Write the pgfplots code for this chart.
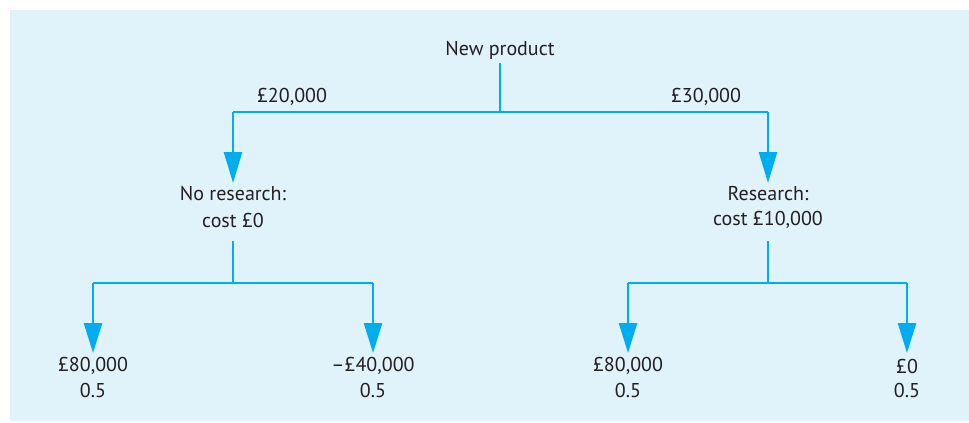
\documentclass[border=0pt]{standalone}
\usepackage{pgfplots}
\pgfplotsset{compat=1.18}
\usetikzlibrary{arrows.meta}
\usepackage{fontspec}
\setmainfont{PT Sans}
\definecolor{bgblue}{HTML}{E0F2FA}
\definecolor{lineblue}{HTML}{00AEEF}
\definecolor{txt}{HTML}{231F20}
\begin{document}
\begin{tikzpicture}
\begin{axis}[
  width=969bp, height=423bp, scale only axis,
  xmin=0, xmax=969, ymin=0, ymax=423, y dir=reverse,
  hide axis, clip=false,
  every axis plot/.append style={line width=2.6bp, color=lineblue},
]
\fill[white] (axis cs:0,0) rectangle (axis cs:969,423);
\fill[bgblue] (axis cs:10,10) rectangle (axis cs:969,421);
% tree lines
\addplot[] coordinates {(500,63) (500,112)};
\addplot[] coordinates {(233,112) (768,112)};
\addplot[-{Triangle[length=31bp,width=18bp]}] coordinates {(233,112) (233,183)};
\addplot[-{Triangle[length=31bp,width=18bp]}] coordinates {(768,112) (768,183)};
\addplot[] coordinates {(233,241) (233,283)};
\addplot[] coordinates {(93,283) (373,283)};
\addplot[-{Triangle[length=30bp,width=18bp]}] coordinates {(93,283) (93,353)};
\addplot[-{Triangle[length=30bp,width=18bp]}] coordinates {(373,283) (373,353)};
\addplot[] coordinates {(768,241) (768,283)};
\addplot[] coordinates {(628,283) (907,283)};
\addplot[-{Triangle[length=30bp,width=18bp]}] coordinates {(628,283) (628,353)};
\addplot[-{Triangle[length=30bp,width=18bp]}] coordinates {(907,283) (907,353)};
% labels
\tikzset{lab/.style={text=txt, font=\fontsize{20bp}{23bp}\selectfont, inner sep=0pt, anchor=center}}
\node[lab] at (axis cs:500,50) {New product};
\node[lab] at (axis cs:292,97) {£20,000};
\node[lab] at (axis cs:706,97) {£30,000};
\node[lab] at (axis cs:233,194) {No research:};
\node[lab] at (axis cs:233,220) {cost £0};
\node[lab] at (axis cs:768,194) {Research:};
\node[lab] at (axis cs:768,220) {cost £10,000};
\node[lab] at (axis cs:93,366) {£80,000};
\node[lab] at (axis cs:93,390) {0.5};
\node[lab] at (axis cs:373,366) {\textendash£40,000};
\node[lab] at (axis cs:373,390) {0.5};
\node[lab] at (axis cs:628,366) {£80,000};
\node[lab] at (axis cs:628,390) {0.5};
\node[lab] at (axis cs:907,366) {£0};
\node[lab] at (axis cs:907,390) {0.5};
\end{axis}
\end{tikzpicture}
\end{document}
